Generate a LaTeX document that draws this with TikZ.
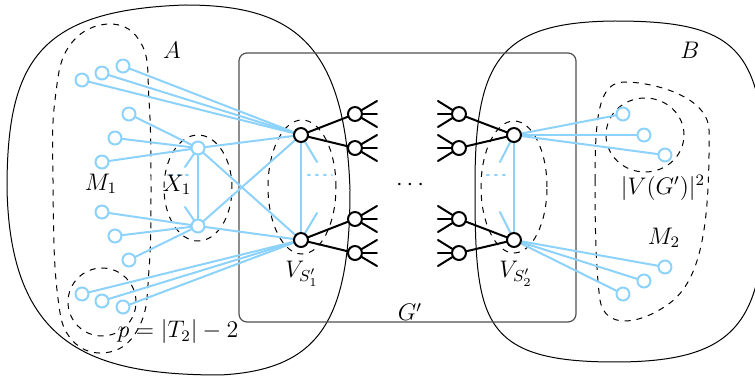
\documentclass[tikz,border=0pt]{standalone}
\usepackage{tkz-euclide}
\usetikzlibrary{calc}
\definecolor{LeafClr}{RGB}{140,210,250}
\definecolor{BoxClr}{RGB}{80,80,80}

\begin{document}
\begin{tikzpicture}[scale=.176,every node/.style={font=\fontsize{11.7}{14}\selectfont}]
\tkzSetUpLine[line width=1pt,color=black]
\tkzSetUpPoint[fill=white,color=black]
\useasboundingbox (0,0) rectangle (75.5,37.7);

% the two sides A and B
\draw[line width=.5pt] (0.7,18.9) .. controls (0.7,31.7) and (4.0,36.7) .. (18.5,37.2)
  .. controls (29.0,37.2) and (34.5,33.7) .. (35.0,18.7)
  .. controls (35.0,5.7) and (32.0,0.7) .. (22.0,0.2)
  .. controls (9.0,0.2) and (1.0,3.2) .. (0.7,18.9) -- cycle;
\draw[line width=.5pt] (47.5,19.2) .. controls (47.5,31.7) and (50.0,35.5) .. (61.5,35.6)
  .. controls (74.0,35.6) and (76.5,32.7) .. (76.5,18.7)
  .. controls (76.5,5.7) and (74.0,1.5) .. (61.5,1.5)
  .. controls (48.0,1.5) and (47.5,5.7) .. (47.5,19.2) -- cycle;

% the graph G'
\draw[line width=.6pt,color=BoxClr,rounded corners=4pt] (23.9,5.5) rectangle (57.6,32.4);

% the groups
\draw[dashed,line width=.5pt] plot[smooth cycle,tension=.7] coordinates {(5.3,19.7) (5.5,27.7) (7.0,33.2) (11.0,35.3) (14.2,33.2) (14.9,27.7) (15.1,19.7) (14.9,10.7) (14.0,5.2) (11.0,2.5) (7.2,3.7) (5.7,8.7)};
\draw[dashed,line width=.5pt] (59.5,19.7) .. controls (59.5,26.7) and (60.0,29.5) .. (62.5,29.5)
  .. controls (65.0,29.5) and (70.8,28.2) .. (70.9,24.7)
  .. controls (71.0,14.7) and (70.0,9.7) .. (67.0,7.4)
  .. controls (64.0,5.2) and (60.5,4.7) .. (60.0,7.7)
  .. controls (59.6,10.7) and (59.5,14.7) .. (59.5,19.7) -- cycle;
\draw[dashed,line width=.5pt] (10.2,7.5) circle [radius=3.4];
\draw[dashed,line width=.5pt] (64.5,24.2) ellipse [x radius=3.9, y radius=3.7];
\draw[dashed,line width=.5pt] (19.8,18.9) ellipse [x radius=3.4, y radius=5.3];
\draw[dashed,line width=.5pt] (30.2,19.0) ellipse [x radius=3.4, y radius=6.7];
\draw[dashed,line width=.5pt] (51.4,19.0) ellipse [x radius=3.3, y radius=6.6];

\tkzDefPoints{30.1/24.2/S1a,30.1/13.7/S1b,51.4/24.2/S2a,51.4/13.7/S2b,19.8/22.9/X1a,19.8/15.1/X1b}
\tkzDefPoints{35.5/26.3/P1,35.5/22.9/P2,35.5/15.8/P3,35.5/12.4/P4}
\tkzDefPoints{45.9/26.3/Q1,45.9/22.9/Q2,45.9/15.8/Q3,45.9/12.4/Q4}
\tkzDefPoints{37.7/27.6/P1u,37.7/26.3/P1m,37.7/25.0/P1d,37.7/24.2/P2u,37.7/22.9/P2m,37.7/21.6/P2d}
\tkzDefPoints{37.7/17.1/P3u,37.7/15.8/P3m,37.7/14.5/P3d,37.7/13.7/P4u,37.7/12.4/P4m,37.7/11.1/P4d}
\tkzDefPoints{43.8/27.6/Q1u,43.8/26.3/Q1m,43.8/25.0/Q1d,43.8/24.2/Q2u,43.8/22.9/Q2m,43.8/21.6/Q2d}
\tkzDefPoints{43.8/17.1/Q3u,43.8/15.8/Q3m,43.8/14.5/Q3d,43.8/13.7/Q4u,43.8/12.4/Q4m,43.8/11.1/Q4d}
\tkzDefPoints{12.3/31.1/a1,10.2/30.4/a2,8.2/29.7/a3,12.9/26.3/b1,11.5/23.9/b2,10.2/21.5/b3}
\tkzDefPoints{10.2/16.5/c1,11.5/14.1/c2,12.9/11.7/c3,8.2/8.3/d1,10.2/7.6/d2,12.3/7.0/d3}
\tkzDefPoints{62.3/26.3/e1,64.4/24.2/e2,66.5/22.2/e3,66.5/11.0/f1,64.4/9.6/f2,62.3/8.3/f3}
\tkzDefPoints{18.5/21.0/xs1,18.5/17.0/xs2,17.0/20.2/xd1,19.3/20.2/xd2}
\tkzDefPoints{31.7/21.5/ss1,31.7/16.4/ss2,30.8/20.2/sd1,33.2/20.2/sd2}
\tkzDefPoints{50.0/21.5/ts1,50.0/16.5/ts2,48.7/20.2/td1,51.0/20.2/td2}

\tkzDrawSegments[color=LeafClr](S1a,a1 S1a,a2 S1a,a3 X1a,b1 X1a,b2 X1a,b3 X1b,c1 X1b,c2 X1b,c3 S1b,d1 S1b,d2 S1b,d3)
\tkzDrawSegments[color=LeafClr](S2a,e1 S2a,e2 S2a,e3 S2b,f1 S2b,f2 S2b,f3)
\tkzDrawSegments[color=LeafClr](X1a,X1b X1a,S1a X1a,S1b X1b,S1a X1b,S1b S1a,S1b S2a,S2b)
\tkzDrawSegments[color=LeafClr](X1a,xs1 X1b,xs2 S1a,ss1 S1b,ss2 S2a,ts1 S2b,ts2)
\tkzDrawSegments[color=LeafClr,dash pattern=on 1pt off 3pt](xd1,xd2 sd1,sd2 td1,td2)

\tkzDrawSegments(S1a,P1 S1a,P2 S1b,P3 S1b,P4 S2a,Q1 S2a,Q2 S2b,Q3 S2b,Q4)
\tkzDrawSegments(P1,P1u P1,P1m P1,P1d P2,P2u P2,P2m P2,P2d P3,P3u P3,P3m P3,P3d P4,P4u P4,P4m P4,P4d)
\tkzDrawSegments(Q1,Q1u Q1,Q1m Q1,Q1d Q2,Q2u Q2,Q2m Q2,Q2d Q3,Q3u Q3,Q3m Q3,Q3d Q4,Q4u Q4,Q4m Q4,Q4d)

\tkzDrawPoints[color=LeafClr,fill=white,line width=1pt,size=6.5](X1a,X1b,a1,a2,a3,b1,b2,b3,c1,c2,c3,d1,d2,d3,e1,e2,e3,f1,f2,f3)
\tkzDrawPoints[color=black,fill=white,line width=1pt,size=7](S1a,S1b,S2a,S2b,P1,P2,P3,P4,Q1,Q2,Q3,Q4)

\node (lblA) at (17.2,32.7) {$A$};
\node (lblB) at (69.0,32.7) {$B$};
\node (lblG) at (41.0,6.5) {$G'$};
\node (lblDots) at (41.0,19.2) {$\cdots$};
\node (lblS1) at (30.2,10.3) {$V_{S'_1}$};
\node (lblS2) at (51.6,10.3) {$V_{S'_2}$};
\node (lblM1) at (10.1,19.3) {$M_1$};
\node (lblX1) at (17.7,19.2) {$X_1$};
\node (lblp) at (17.8,4.5) {$p = |T_2| - 2$};
\node (lblV) at (66.3,18.9) {$|V(G')|^2$};
\node (lblM2) at (66.4,13.9) {$M_2$};
\end{tikzpicture}
\end{document}
